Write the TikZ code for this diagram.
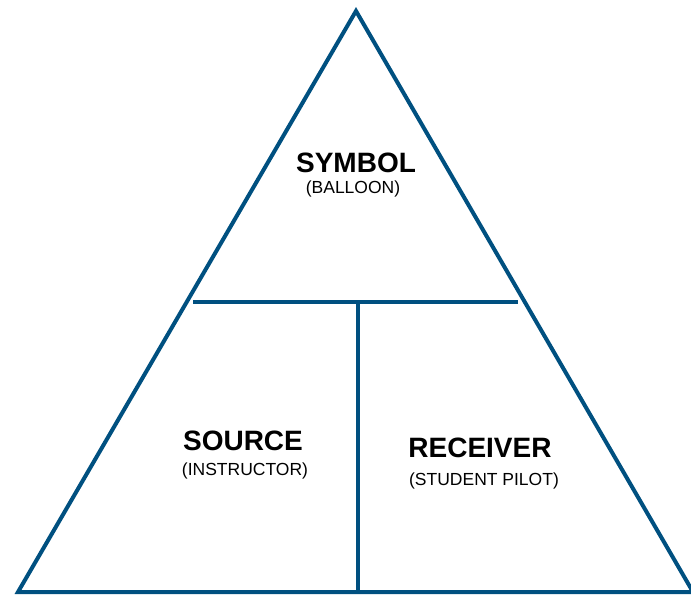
\documentclass[tikz,border=0pt]{standalone}
\usepackage{fontspec}
\setmainfont{Liberation Sans}
\definecolor{faablue}{RGB}{0,80,128}
\begin{document}
\begin{tikzpicture}[x=1pt,y=1pt]
        \tikzstyle{edge}=[draw=faablue, line width=4pt];
        \tikzstyle{head}=[font=\fontsize{28}{30}\selectfont\bfseries, anchor=base, inner sep=0pt];
        \tikzstyle{sub}=[font=\fontsize{17.5}{19}\selectfont, anchor=base, inner sep=0pt];
        \useasboundingbox (0,0) rectangle (691,595);
        \coordinate (t) at (356,584);
        \coordinate (l) at (18,3);
        \coordinate (r) at (693,3);
        \draw [edge, line join=miter] (l) -- (t) -- (r) -- cycle;
        \coordinate (b1) at (193,293);
        \coordinate (b2) at (518,293);
        \coordinate (b3) at (358,293);
        \coordinate (b4) at (358,3);
        \draw [edge] (b1) -- (b2);
        \draw [edge] (b3) -- (b4);
        
        \node[head] (v1) at (356,422) {SYMBOL};
        \node[sub] (v2) at (353,401) {(BALLOON)};
        \node[head] (v3) at (243,145) {SOURCE};
        \node[sub] (v4) at (245,120) {(INSTRUCTOR)};
        \node[head] (v5) at (480,138) {RECEIVER};
        \node[sub] (v6) at (484,110) {(STUDENT PILOT)};
    \end{tikzpicture}
\end{document}
